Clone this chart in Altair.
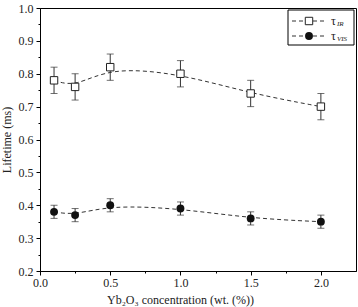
import altair as alt
import pandas as pd

# Yb2O3 concentration (wt. %) and measured lifetimes (ms)
conc = [0.1, 0.25, 0.5, 1.0, 1.5, 2.0]
tau_ir = [0.78, 0.76, 0.82, 0.80, 0.74, 0.70]
tau_vis = [0.38, 0.37, 0.40, 0.39, 0.36, 0.35]
err_ir = [0.04, 0.04, 0.04, 0.04, 0.04, 0.04]
err_vis = [0.02, 0.02, 0.02, 0.02, 0.02, 0.02]

x_ticks = [0.0, 0.25, 0.5, 0.75, 1.0, 1.25, 1.5, 1.75, 2.0]
y_ticks = [0.2, 0.25, 0.3, 0.35, 0.4, 0.45, 0.5, 0.55, 0.6, 0.65, 0.7, 0.75,
           0.8, 0.85, 0.9, 0.95, 1.0]

rows = []
for series, vals, errs in (("IR", tau_ir, err_ir), ("VIS", tau_vis, err_vis)):
    for c, v, e in zip(conc, vals, errs):
        rows.append({"conc": c, "tau": v, "lo": v - e, "hi": v + e, "series": series})
df = pd.DataFrame(rows)

FONT = "Liberation Serif"
W, H = 316, 263

xs = alt.Scale(domain=[0, 2.25], nice=False, zero=False)
ys = alt.Scale(domain=[0.2, 1.0], nice=False, zero=False)

minor_x = "abs(datum.value*2 - round(datum.value*2)) > 0.001"
minor_y = "abs(datum.value*10 - round(datum.value*10)) > 0.001"

x_axis = alt.Axis(
    values=x_ticks,
    labelExpr=f"{minor_x} ? '' : format(datum.value, '.1f')",
    tickSize={"condition": {"test": minor_x, "value": 2}, "value": 4},
    labelOverlap=False, labelFlush=False,
    title="Yb\u2082O\u2083 concentration (wt. (%))",
    titleX=140, titleY=23, titleAnchor="middle",
    grid=False, domainColor="black", tickColor="black",
    labelFont=FONT, labelFontSize=12, labelColor="#222", labelPadding=2,
    titleFont=FONT, titleFontSize=12, titleFontWeight="normal", titleColor="#222",
)
y_axis = alt.Axis(
    values=y_ticks,
    labelExpr=f"{minor_y} ? '' : format(datum.value, '.1f')",
    tickSize={"condition": {"test": minor_y, "value": 2}, "value": 4},
    labelOverlap=False, labelFlush=False,
    title="Lifetime (ms)",
    titlePadding=5,
    grid=False, domainColor="black", tickColor="black",
    labelFont=FONT, labelFontSize=12, labelColor="#222", labelPadding=3,
    titleFont=FONT, titleFontSize=12, titleFontWeight="normal", titleColor="#222",
)


def xq(field):
    return alt.X(f"{field}:Q", scale=xs, axis=x_axis)


def yq(field):
    return alt.Y(f"{field}:Q", scale=ys, axis=y_axis)


base = alt.Chart(df)

lines = base.mark_line(interpolate="basis", strokeDash=[4, 3], color="#333",
                       strokeWidth=1).encode(x=xq("conc"), y=yq("tau"), detail="series:N")

bars = base.mark_rule(color="#333", strokeWidth=1).encode(
    x=xq("conc"), y=yq("lo"), y2="hi:Q")
cap_lo = base.mark_tick(orient="horizontal", size=7, thickness=1, color="#333").encode(
    x=xq("conc"), y=yq("lo"))
cap_hi = base.mark_tick(orient="horizontal", size=7, thickness=1, color="#333").encode(
    x=xq("conc"), y=yq("hi"))

squares = base.transform_filter("datum.series == 'IR'").mark_square(
    size=55, fill="white", stroke="#222", strokeWidth=1, opacity=1
).encode(x=xq("conc"), y=yq("tau"))
dots = base.transform_filter("datum.series == 'VIS'").mark_circle(
    size=62, color="#111", opacity=1
).encode(x=xq("conc"), y=yq("tau"))

# legend drawn inside the top-right corner of the plot
one = alt.Chart(pd.DataFrame({"k": [0]}))
box = one.mark_rect(fill="white", stroke="black", strokeWidth=1).encode(
    x=alt.value(248), x2=alt.value(314), y=alt.value(2), y2=alt.value(37))

legend_layers = [box]
for row_y, sub, kind in ((13, "IR", "square"), (28, "VIS", "circle")):
    legend_layers.append(one.mark_rule(strokeDash=[4, 3], color="#333", strokeWidth=1).encode(
        x=alt.value(252), x2=alt.value(286), y=alt.value(row_y)))
    if kind == "square":
        legend_layers.append(one.mark_square(size=55, fill="white", stroke="#222",
                                             strokeWidth=1, opacity=1).encode(
            x=alt.value(269), y=alt.value(row_y)))
    else:
        legend_layers.append(one.mark_circle(size=62, color="#111", opacity=1).encode(
            x=alt.value(269), y=alt.value(row_y)))
    legend_layers.append(one.mark_text(text="\u03c4", font=FONT, fontSize=12, align="left",
                                       baseline="middle", color="#222").encode(
        x=alt.value(291), y=alt.value(row_y)))
    legend_layers.append(one.mark_text(text=sub, font=FONT, fontSize=7, fontStyle="italic",
                                       align="left", baseline="middle", color="#222").encode(
        x=alt.value(297), y=alt.value(row_y + 3)))

chart = alt.layer(lines, bars, cap_lo, cap_hi, squares, dots, *legend_layers).properties(
    width=W, height=H,
    autosize=alt.AutoSizeParams(type="none"),
    padding={"left": 40, "top": 8, "right": 2, "bottom": 36},
    background="white",
).configure_view(stroke="black", strokeWidth=1
).configure_axis(labelOverlap=False)

chart.save("out.html", embed_options={"renderer": "svg", "actions": False})
